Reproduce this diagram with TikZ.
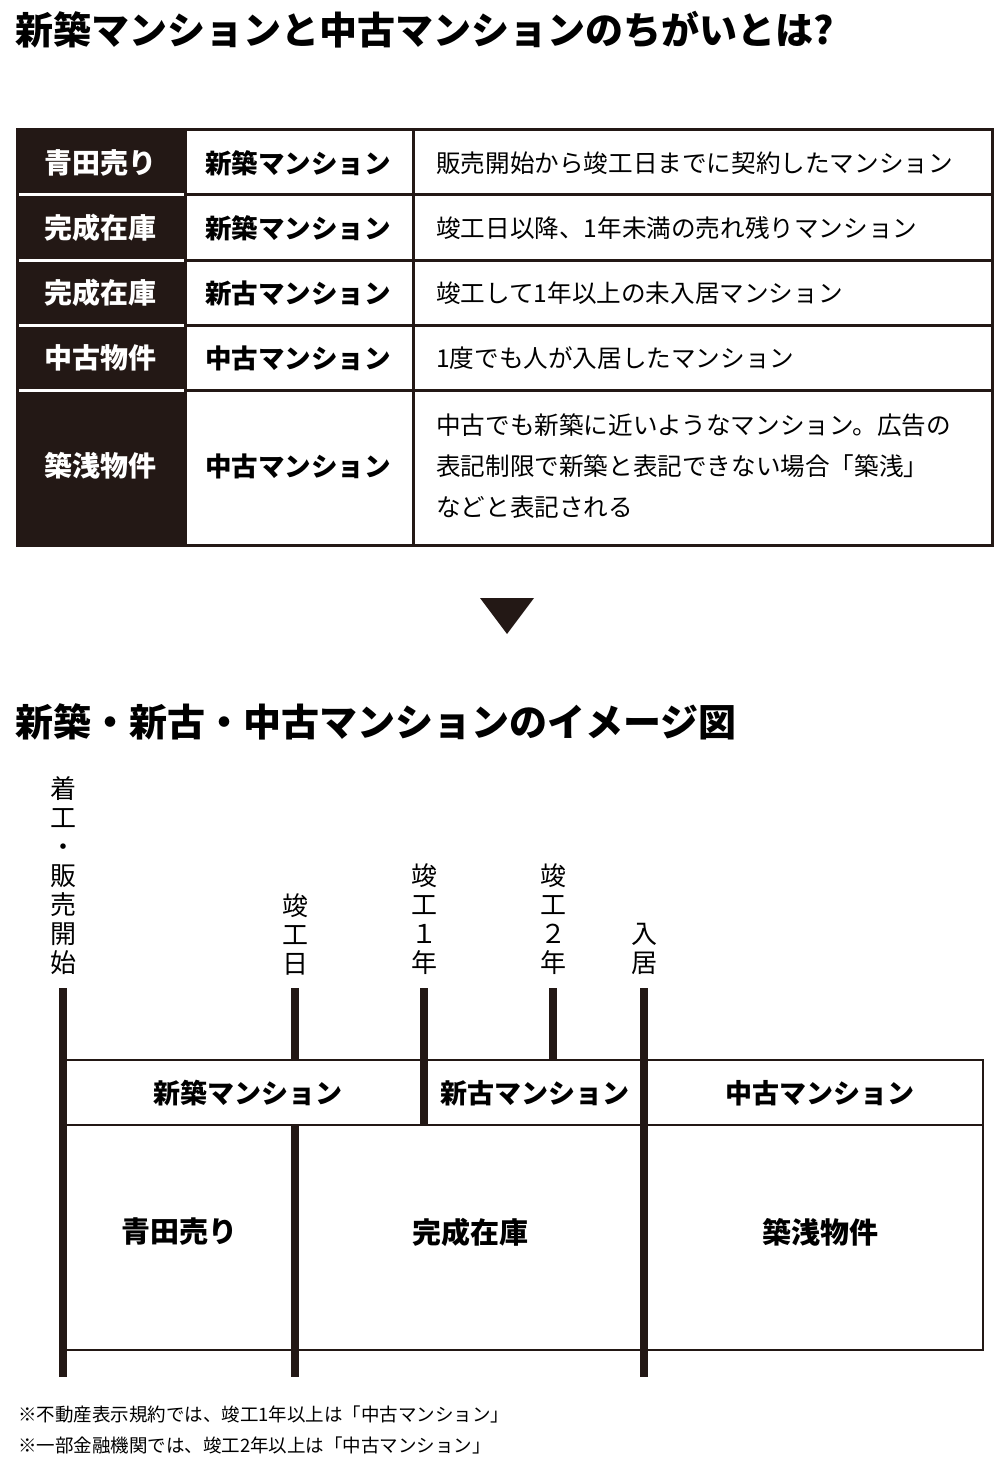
\documentclass[tikz,border=0pt]{standalone}
\usepackage{fontspec}
\setmainfont{Noto Sans CJK JP}
\definecolor{ink}{HTML}{231815}
\begin{document}
\begin{tikzpicture}[x=1pt,y=-1pt,
  tl/.style={font=\fontsize{38}{44}\selectfont\bfseries,anchor=west,inner sep=0},
  c1/.style={font=\fontsize{28}{30}\selectfont\bfseries,text=white,inner sep=0},
  c2/.style={font=\fontsize{26.5}{30}\selectfont\bfseries,inner sep=0},
  c3/.style={font=\fontsize{24.6}{30}\selectfont,anchor=west,inner sep=0,align=left},
  vl/.style={font=\fontsize{26}{29}\selectfont,anchor=south,inner sep=0,align=center},
  bar/.style={line width=8pt,draw=ink},
  bl/.style={font=\fontsize{27}{30}\selectfont\bfseries,inner sep=0},
  bk/.style={font=\fontsize{29}{30}\selectfont\bfseries,inner sep=0},
  fn/.style={font=\fontsize{18.5}{20}\selectfont,anchor=west,inner sep=0}]
\useasboundingbox[fill=white] (0,0) rectangle (1000,1466);
\node[tl] (t1) at (15,30) {新築マンションと中古マンションのちがいとは?};
% table
\fill[ink] (17,130) rectangle (185,545);
\foreach \y in {195,260,325,390}{
  \draw[white,line width=3pt] (17,\y) -- (185,\y);
  \draw[ink,line width=3pt] (185,\y) -- (992,\y);}
\draw[ink,line width=3pt] (17,130) rectangle (992,545);
\draw[ink,line width=3pt] (185,130) -- (185,545);
\draw[ink,line width=3pt] (413,130) -- (413,545);
\node[c1] (a1) at (100,163) {青田売り};
\node[c1] (a2) at (100,228) {完成在庫};
\node[c1] (a3) at (100,293) {完成在庫};
\node[c1] (a4) at (100,358) {中古物件};
\node[c1] (a5) at (100,466) {築浅物件};
\node[c2] (b1) at (298,163) {新築マンション};
\node[c2] (b2) at (298,228) {新築マンション};
\node[c2] (b3) at (298,293) {新古マンション};
\node[c2] (b4) at (298,358) {中古マンション};
\node[c2] (b5) at (298,466) {中古マンション};
\node[c3] (d1) at (436,163) {販売開始から竣工日までに契約したマンション};
\node[c3] (d2) at (436,228) {竣工日以降、1年未満の売れ残りマンション};
\node[c3] (d3) at (436,293) {竣工して1年以上の未入居マンション};
\node[c3] (d4) at (436,358) {1度でも人が入居したマンション};
\node[c3,font=\fontsize{24.6}{41}\selectfont] (d5) at (436,466) {中古でも新築に近いようなマンション。広告の\\表記制限で新築と表記できない場合「築浅」\\などと表記される};
% arrow
\fill[ink] (480,598) -- (534,598) -- (507,634) -- cycle;
\node[tl] (t2) at (15,722) {新築・新古・中古マンションのイメージ図};
% vertical labels
\node[vl] (v1) at (63,975) {着\\工\\・\\販\\売\\開\\始};
\node[vl] (v2) at (295,975) {竣\\工\\日};
\node[vl] (v3) at (424,975) {竣\\工\\１\\年};
\node[vl] (v4) at (553,975) {竣\\工\\２\\年};
\node[vl] (v5) at (644,975) {入\\居};
% boxes
\draw[ink,line width=2.5pt] (64,1060) rectangle (983,1350);
\draw[ink,line width=2.5pt] (64,1125) -- (983,1125);
\draw[bar] (63,988) -- (63,1377);
\draw[bar] (295,988) -- (295,1060);
\draw[bar] (295,1125) -- (295,1377);
\draw[bar] (424,988) -- (424,1125);
\draw[bar] (553,988) -- (553,1060);
\draw[bar] (644,988) -- (644,1377);
\node[bl] (m1) at (248,1093) {新築マンション};
\node[bl] (m2) at (535,1093) {新古マンション};
\node[bl] (m3) at (820,1093) {中古マンション};
\node[bk] (k1) at (179,1232) {青田売り};
\node[bk] (k2) at (470,1232) {完成在庫};
\node[bk] (k3) at (820,1232) {築浅物件};
\node[fn] (f1) at (18,1414) {※不動産表示規約では、竣工1年以上は「中古マンション」};
\node[fn] (f2) at (18,1445) {※一部金融機関では、竣工2年以上は「中古マンション」};
\end{tikzpicture}
\end{document}
